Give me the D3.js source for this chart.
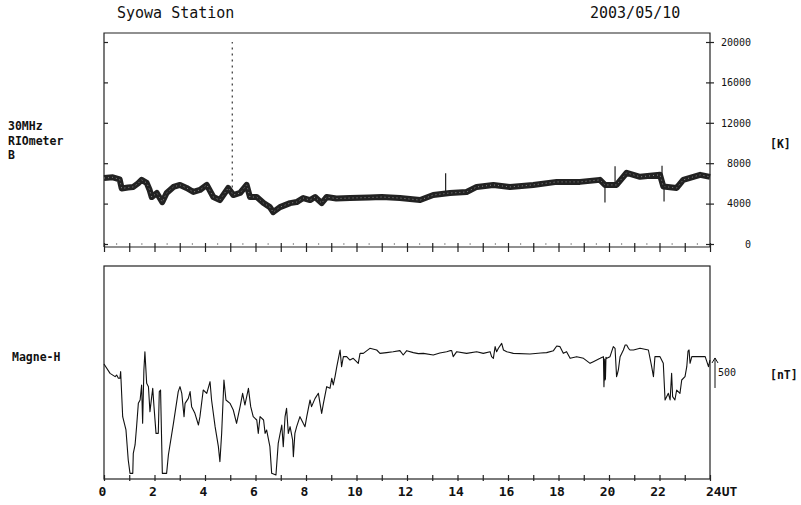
<!DOCTYPE html>
<html lang="en">
<head>
<meta charset="UTF-8" />
<title>Syowa Station 2003/05/10</title>
<script src="https://d3js.org/d3.v7.min.js"></script>
<style>
  body { margin: 0; background: #fff; }
  svg { display: block; font-family: "DejaVu Sans Mono", monospace; }
  .frame { fill: none; stroke: #222; stroke-width: 1.2px; }
  .axis path { display: none; }
  .axis line { stroke: #222; stroke-width: 1.2px; }
  .axis text { fill: #111; font-family: "DejaVu Sans Mono", monospace; }
  .lbl { fill: #111; font-size: 11.5px; font-weight: bold; }
</style>
</head>
<body>
<svg id="chart" width="801" height="505"></svg>
<script>
// riometer absorption (30 MHz, beam B), sky noise temperature [K]
const rioHours = [0.00, 0.35, 0.62, 0.70, 0.95, 1.16, 1.35, 1.49, 1.69, 1.80, 1.89, 2.09, 2.31, 2.48, 2.75,
  3.01, 3.27, 3.54, 3.80, 4.07, 4.33, 4.59, 4.92, 5.12, 5.39, 5.65, 5.78, 6.05, 6.32, 6.57, 6.70, 6.97,
  7.37, 7.63, 7.89, 8.16, 8.36, 8.62, 8.82, 9.20, 9.74, 10.50, 11.00, 11.72, 12.52, 13.04, 13.70, 14.36,
  14.76, 15.42, 16.08, 17.00, 17.93, 18.85, 19.64, 19.84, 20.30, 20.70, 21.23, 22.02, 22.15, 22.68,
  22.94, 23.61, 24.00];
const rioK = [6530, 6600, 6400, 5500, 5600, 5650, 6000, 6350, 6050, 5400, 4650, 5050, 4150, 5050, 5650,
  5850, 5550, 5150, 5350, 5850, 4650, 4350, 5550, 4850, 5050, 5850, 4650, 4650, 4050, 3650, 3150, 3650,
  4050, 4150, 4550, 4350, 4650, 4050, 4650, 4500, 4550, 4600, 4650, 4550, 4350, 4850, 5050, 5150,
  5650, 5850, 5650, 5850, 6150, 6150, 6350, 5850, 5850, 7050, 6650, 6850, 5700, 5550,
  6350, 6850, 6650];

// short isolated spikes on the riometer record: hour, low, high [K]
const rioSpikeHours = [13.53, 19.84, 20.24, 22.10, 22.18];
const rioSpikeLow = [5000, 4100, 6000, 6800, 4200];
const rioSpikeHigh = [7000, 5800, 7700, 7750, 5800];
// dotted dropout spike
const rioDropHour = 5.08;
const rioDropLow = 5000;
const rioDropHigh = 20000;

// magnetometer H component deviation [nT]
const magHours = [0.00, 0.24, 0.44, 0.50, 0.57, 0.63, 0.66, 0.74, 0.87, 0.96, 1.03, 1.14, 1.16, 1.23, 1.29,
  1.36, 1.43, 1.49, 1.53, 1.58, 1.62, 1.69, 1.76, 1.82, 1.89, 1.93, 1.98, 2.06, 2.15, 2.19, 2.24, 2.31,
  2.48, 2.55, 2.75, 2.94, 3.01, 3.08, 3.17, 3.21, 3.34, 3.41, 3.47, 3.60, 3.74, 3.80, 3.93, 4.07, 4.20,
  4.26, 4.40, 4.53, 4.59, 4.66, 4.75, 4.83, 4.99, 5.12, 5.25, 5.39, 5.49, 5.58, 5.72, 5.81, 5.91, 6.05,
  6.11, 6.18, 6.32, 6.38, 6.44, 6.57, 6.64, 6.81, 6.90, 7.04, 7.10, 7.17, 7.23, 7.30, 7.37, 7.47, 7.50,
  7.56, 7.63, 7.76, 7.89, 7.96, 8.03, 8.16, 8.22, 8.36, 8.49, 8.62, 8.69, 8.82, 8.95, 9.02, 9.08, 9.15,
  9.22, 9.35, 9.41, 9.48, 9.61, 9.74, 9.87, 10.07, 10.14, 10.27, 10.53, 10.80, 10.93, 11.19, 11.45,
  11.72, 11.85, 11.99, 12.25, 12.45, 12.65, 13.04, 13.30, 13.57, 13.70, 13.77, 13.83, 13.97, 14.36,
  14.76, 15.02, 15.29, 15.35, 15.42, 15.49, 15.55, 15.62, 15.75, 15.82, 15.95, 16.21, 16.87, 17.30,
  17.53, 17.80, 17.93, 18.06, 18.19, 18.32, 18.46, 18.72, 18.99, 19.25, 19.38, 19.65, 19.78, 19.80,
  19.83, 19.84, 19.86, 19.88, 19.91, 20.04, 20.17, 20.24, 20.30, 20.33, 20.37, 20.44, 20.57, 20.64,
  20.70, 20.77, 20.83, 20.97, 21.23, 21.56, 21.69, 21.76, 21.82, 22.02, 22.15, 22.22, 22.35, 22.42,
  22.48, 22.52, 22.61, 22.68, 22.81, 22.88, 23.01, 23.08, 23.13, 23.17, 23.21, 23.28, 23.61, 23.81,
  23.94, 24.00];
const magNT = [-233, -389, -444, -417, -472, -472, -361, -1111, -1333, -1833, -2056, -2056, -1722, -1583, -1278,
  -889, -833, -583, -1222, -333, -28, -556, -611, -1028, -778, -639, -944, -1389, -1389, -694, -667, -2056,
  -2056, -1750, -1222, -694, -611, -722, -1111, -889, -806, -694, -944, -1056, -1250, -1111, -667, -722, -528,
  -833, -1278, -1611, -1861, -1389, -500, -833, -889, -1000, -1222, -944, -722, -917, -639, -944, -1111, -1167,
  -1389, -1111, -1167, -1389, -1333, -1611, -2056, -2083, -1556, -1250, -1611, -1111, -972, -1389, -1278, -1500, -1778,
  -1389, -1278, -1111, -1222, -1278, -1111, -833, -944, -806, -722, -1056, -889, -611, -639, -472, -583, -444,
  -278, 0, -278, -111, -111, -167, -139, -222, -56, -56, 28, 0, -56, -44, -30,
  -11, -83, -11, -44, -60, -56, -83, -50, -28, -11, -11, -111, -28, -56,
  -28, -56, -28, -111, -139, 56, -30, 28, 111, 0, -28, -56, -67, -50,
  -44, -11, 67, 56, -56, -28, -139, -111, -139, -222, -194, -139, -111, -611,
  -150, -500, -480, -120, -139, -111, 56, 28, -444, -400, -333, -111, 0, 83,
  83, 28, 0, 0, 28, 0, -278, -444, -111, -111, -222, -833, -722, -833,
  -389, -778, -833, -667, -722, -500, -444, -278, -17, 0, -222, -111, -111, -111,
  -278, -167];

const rioTicks = [0, 4000, 8000, 12000, 16000, 20000];
const hourLabels = [0, 2, 4, 6, 8, 10, 12, 14, 16, 18, 20, 22];
const scaleBarNT = 500;

const svg = d3.select("#chart");

const x = d3.scaleLinear().domain([0, 24]).range([104, 710]);
const yTop = d3.scaleLinear().domain([0, 20000]).range([244, 42]);
const yBot = d3.scaleLinear().domain([-2150, 1400]).range([479, 266]);

// ---------- titles ----------
svg.append("text").attr("x", 117).attr("y", 18).attr("font-size", 15).attr("fill", "#111")
  .text("Syowa Station");
svg.append("text").attr("x", 590).attr("y", 18).attr("font-size", 15).attr("fill", "#111")
  .text("2003/05/10");

// ---------- top panel (riometer) ----------
const topG = svg.append("g");
topG.append("path").attr("class", "frame")
  .attr("d", `M104,247V33H710V247`);
topG.append("line").attr("x1", 104).attr("x2", 710).attr("y1", 247).attr("y2", 247)
  .attr("stroke", "#222").attr("stroke-width", 1.2);

// left ticks (no labels)
const leftAx = topG.append("g").attr("class", "axis").attr("transform", "translate(104,0)")
  .call(d3.axisLeft(yTop).tickValues(rioTicks).tickSize(4).tickFormat(""));
leftAx.selectAll(".tick line").attr("x2", 4);

// right ticks + labels
const rightAx = topG.append("g").attr("class", "axis").attr("transform", "translate(710,0)")
  .call(d3.axisRight(yTop).tickValues(rioTicks).tickSize(4).tickFormat(d3.format("d")));
rightAx.selectAll(".tick line").attr("x1", -4);
rightAx.selectAll(".tick text").attr("x", 41).attr("text-anchor", "end").attr("font-size", 10);

// hour ticks on top panel baseline
const topHour = topG.append("g").attr("class", "axis").attr("transform", "translate(0,247)")
  .call(d3.axisBottom(x).ticks(24).tickSize(5).tickFormat(""));
topHour.selectAll(".tick line").attr("y1", -4);

// faint half-hour dots on the zero level
topG.selectAll("circle.dot").data(d3.range(0.5, 24, 1)).join("circle")
  .attr("cx", d => x(d)).attr("cy", yTop(0)).attr("r", 0.7).attr("fill", "#666");

// noisy record drawn as a dark band with lighter speckle
const rioData = rioHours.map((h, i) => ({ h, v: rioK[i] }));
const rioLine = d3.line().x(d => x(d.h)).y(d => yTop(d.v));
topG.append("path").datum(rioData).attr("d", rioLine)
  .attr("fill", "none").attr("stroke", "#222").attr("stroke-width", 6)
  .attr("stroke-linejoin", "round");
topG.append("path").datum(rioData).attr("d", rioLine)
  .attr("fill", "none").attr("stroke", "#8a8a8a").attr("stroke-width", 1)
  .attr("stroke-dasharray", "1,3");

topG.selectAll("line.spike").data(rioSpikeHours).join("line")
  .attr("x1", d => x(d)).attr("x2", d => x(d))
  .attr("y1", (d, i) => yTop(rioSpikeLow[i])).attr("y2", (d, i) => yTop(rioSpikeHigh[i]))
  .attr("stroke", "#222").attr("stroke-width", 1.2);
topG.append("line")
  .attr("x1", x(rioDropHour)).attr("x2", x(rioDropHour))
  .attr("y1", yTop(rioDropLow)).attr("y2", yTop(rioDropHigh))
  .attr("stroke", "#333").attr("stroke-width", 1.2).attr("stroke-dasharray", "2,4");

svg.append("text").attr("class", "lbl").attr("x", 8).attr("y", 130).text("30MHz");
svg.append("text").attr("class", "lbl").attr("x", 8).attr("y", 144.5).text("RIOmeter");
svg.append("text").attr("class", "lbl").attr("x", 8).attr("y", 159).text("B");
svg.append("text").attr("class", "lbl").attr("x", 770).attr("y", 148).text("[K]");

// ---------- bottom panel (magnetometer H) ----------
const botG = svg.append("g");
botG.append("rect").attr("class", "frame")
  .attr("x", 104).attr("y", 266).attr("width", 606).attr("height", 213);

const botHour = botG.append("g").attr("class", "axis").attr("transform", "translate(0,479)")
  .call(d3.axisBottom(x).ticks(24).tickSize(2).tickFormat(""));
botHour.selectAll(".tick line").attr("y1", -4);

const botLab = botG.append("g").attr("class", "axis").attr("transform", "translate(0,479)")
  .call(d3.axisBottom(x).tickValues(hourLabels).tickSize(0).tickPadding(8).tickFormat(d3.format("d")));
botLab.selectAll(".tick text").attr("font-size", 13).attr("font-weight", "bold").attr("dx", -2);
botG.append("text").attr("x", x(24) - 4).attr("y", 496).attr("font-size", 13)
  .attr("font-weight", "bold").attr("fill", "#111").text("24UT");

const magData = magHours.map((h, i) => ({ h, v: magNT[i] }));
botG.append("path").datum(magData)
  .attr("d", d3.line().x(d => x(d.h)).y(d => yBot(d.v)))
  .attr("fill", "none").attr("stroke", "#111").attr("stroke-width", 1.1)
  .attr("stroke-linejoin", "round");

// 500 nT scale arrow
const arrowBase = -633;
const ay0 = yBot(arrowBase), ay1 = yBot(arrowBase + scaleBarNT);
botG.append("line").attr("x1", 715).attr("x2", 715).attr("y1", ay0).attr("y2", ay1)
  .attr("stroke", "#111").attr("stroke-width", 1);
botG.append("path").attr("d", `M712,${ay1 + 5}L715,${ay1}L718,${ay1 + 5}`)
  .attr("fill", "none").attr("stroke", "#111").attr("stroke-width", 1);
botG.append("text").attr("x", 718).attr("y", (ay0 + ay1) / 2 + 3.5).attr("font-size", 10)
  .attr("fill", "#111").text(scaleBarNT);

svg.append("text").attr("class", "lbl").attr("x", 12).attr("y", 361).text("Magne-H");
svg.append("text").attr("class", "lbl").attr("x", 770).attr("y", 379).text("[nT]");
</script>
</body>
</html>
